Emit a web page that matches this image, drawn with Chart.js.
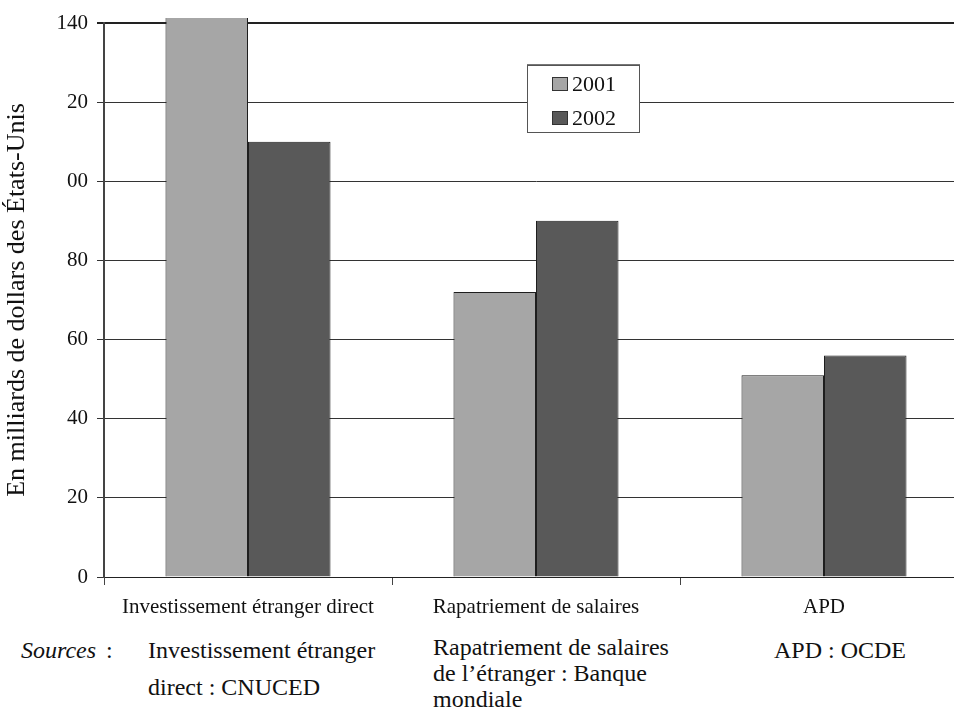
<!DOCTYPE html>
<html>
<head>
<meta charset="utf-8">
<script src="https://cdn.jsdelivr.net/npm/chart.js@4.4.1/dist/chart.umd.min.js"></script>
<style>
  html, body { margin: 0; padding: 0; background: #fff; overflow: hidden; width: 954px; height: 708px; }
  #wrap { position: relative; width: 954px; height: 708px; overflow: hidden; }
  #c { position: absolute; left: 0; top: 0; }
  .txt { position: absolute; font-family: 'Liberation Serif', 'Times New Roman', serif; color: #111; white-space: nowrap; }
  .src { font-size: 24px; }
  .src .colon { margin-left: 10px; }
  #legend { position: absolute; left: 527px; top: 65px; width: 111px; height: 66px;
            border: 1px solid #555; box-shadow: 0 -1px 0 #777; background: #fff; }
  .lg-item { position: absolute; left: 24px; height: 24px; display: flex; align-items: center;
             font-family: 'Liberation Serif', 'Times New Roman', serif; font-size: 22px; color: #111; }
  .lg-box { width: 14px; height: 12px; border: 1px solid #333; margin-right: 4px; }
</style>
</head>
<body>
<div id="wrap">
  <canvas id="c" width="980" height="630"></canvas>
  <div id="legend"></div>

  <div class="txt src" style="left:21px; top:636px; line-height:28px;"><i>Sources</i><span class="colon">:</span></div>
  <div class="txt src" style="left:148px; top:632px; line-height:37px;">Investissement étranger<br>direct : CNUCED</div>
  <div class="txt src" style="left:433px; top:634px; line-height:26px;">Rapatriement de salaires<br>de l’étranger : Banque<br>mondiale</div>
  <div class="txt src" style="left:774px; top:636px; line-height:28px;">APD : OCDE</div>
</div>

<script>
// Flux financiers, en milliards de dollars des États-Unis
const categories = ['Investissement étranger direct', 'Rapatriement de salaires', 'APD'];
const years = ['2001', '2002'];
const values2001 = [145, 72, 51];
const values2002 = [110, 90, 56];
const yTickLabels = ['0', '20', '40', '60', '80', '00', '20', '140'];

const seriesColors = ['#a6a6a6', '#595959'];
const FONT = "'Liberation Serif', 'Times New Roman', serif";

const datasets = [values2001, values2002].map((vals, i) => ({
  label: years[i],
  data: vals,
  backgroundColor: seriesColors[i],
  borderColor: '#1e1e1e',
  borderWidth: 1,
  // the tallest bar runs a few pixels past the top of the plot
  clip: { left: 0, top: 5, right: 0, bottom: 0 }
}));

const chart = new Chart(document.getElementById('c'), {
  type: 'bar',
  data: { labels: categories, datasets },
  options: {
    responsive: false,
    animation: false,
    devicePixelRatio: 1,
    layout: { padding: { left: 0, top: 23, right: 12, bottom: 0 } },
    datasets: { bar: { categoryPercentage: 0.573, barPercentage: 1 } },
    plugins: { legend: { display: false }, tooltip: { enabled: false } },
    scales: {
      x: {
        offset: true,
        afterFit(s) { s.height = 53; },
        grid: { display: true, drawOnChartArea: false, offset: true, tickLength: 8, color: '#444', lineWidth: 1 },
        border: { display: true, color: '#222', width: 1 },
        ticks: { font: { family: FONT, size: 21 }, color: '#111', padding: 10, maxRotation: 0, autoSkip: false }
      },
      y: {
        min: 0, max: 140,
        afterFit(s) { s.width = 104; },
        grid: {
          color: ctx => (ctx.tick && ctx.tick.value === 140) ? '#222' : '#333',
          lineWidth: ctx => (ctx.tick && ctx.tick.value === 140) ? 2 : 1,
          tickLength: 7
        },
        border: { color: '#444', width: 2 },
        ticks: {
          stepSize: 20, padding: 9, color: '#111',
          font: { family: FONT, size: 21 },
          callback: v => yTickLabels[Math.round(v / 20)]
        },
        title: {
          display: true,
          text: 'En milliards de dollars des États-Unis',
          color: '#111',
          font: { family: FONT, size: 26 },
          padding: { top: 2, bottom: 0 }
        }
      }
    }
  }
});

// Legend drawn from the chart's datasets
const legend = document.getElementById('legend');
chart.data.datasets.forEach((ds, i) => {
  const item = document.createElement('div');
  item.className = 'lg-item';
  item.style.top = (i === 0 ? 6 : 40) + 'px';
  const box = document.createElement('span');
  box.className = 'lg-box';
  box.style.background = ds.backgroundColor;
  const lbl = document.createElement('span');
  lbl.textContent = ds.label;
  item.appendChild(box);
  item.appendChild(lbl);
  legend.appendChild(item);
});
</script>
</body>
</html>
